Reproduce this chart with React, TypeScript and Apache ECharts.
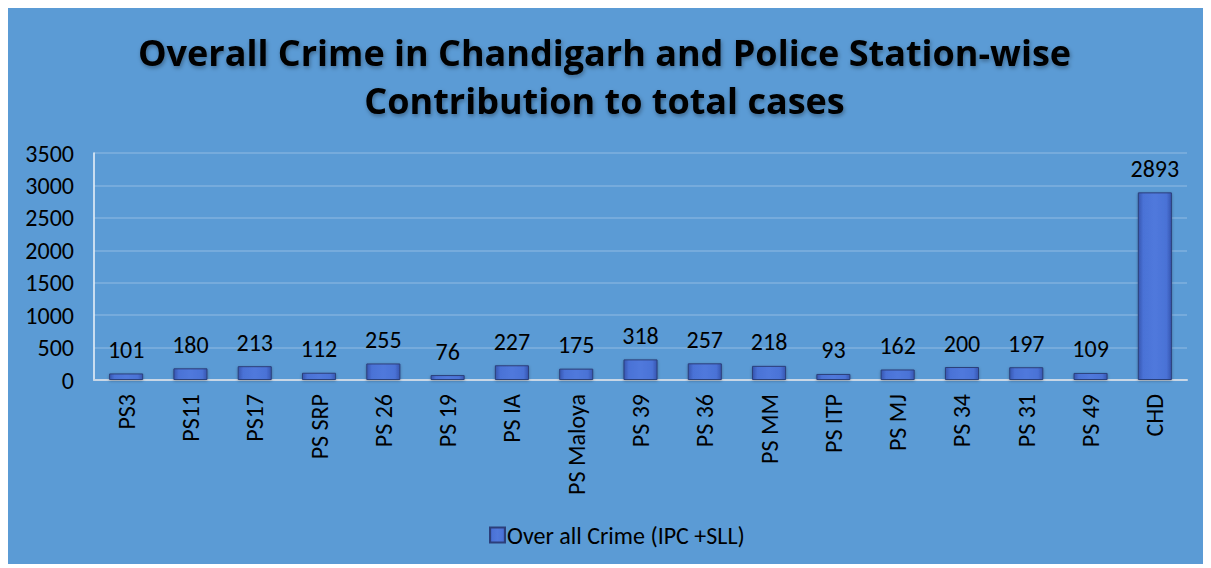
import React, { useEffect, useRef } from "react";
import * as echarts from "echarts";

const categories = ["PS3", "PS11", "PS17", "PS SRP", "PS 26", "PS 19", "PS IA", "PS Maloya", "PS 39", "PS 36", "PS MM", "PS ITP", "PS MJ", "PS 34", "PS 31", "PS 49", "CHD"];
const values = [101, 180, 213, 112, 255, 76, 227, 175, 318, 257, 218, 93, 162, 200, 197, 109, 2893];
const seriesName = "Over all Crime (IPC +SLL)";
const titleLines = ["Overall Crime in Chandigarh and Police Station-wise", "Contribution to total cases"];

export default function App() {
  const ref = useRef<HTMLDivElement>(null);
  useEffect(() => {
    const chart = echarts.init(ref.current!, null, { renderer: "svg" });
    const font = "Carlito, 'Open Sans', 'Liberation Sans', sans-serif";
    const barColor = new echarts.graphic.LinearGradient(0, 0, 1, 0, [
      { offset: 0, color: "#3656B0" },
      { offset: 0.15, color: "#4A72D6" },
      { offset: 0.5, color: "#5079DC" },
      { offset: 0.85, color: "#4A72D6" },
      { offset: 1, color: "#3656B0" },
    ]);
    chart.setOption({
      animation: false,
      backgroundColor: "#5B9BD5",
      title: {
        text: titleLines.join("\n"),
        left: "center",
        top: 15,
        textStyle: {
          fontFamily: "'Open Sans', sans-serif",
          fontWeight: "bold",
          fontSize: 36,
          lineHeight: 48,
          color: "#000",
          textShadowColor: "rgba(0,0,0,0.35)",
          textShadowBlur: 4,
          textShadowOffsetX: 1,
          textShadowOffsetY: 2,
        },
      },
      legend: {
        bottom: 12,
        left: 478,
        itemWidth: 15,
        itemHeight: 15,
        itemGap: 4,
        icon: "rect",
        textStyle: { fontFamily: font, fontSize: 24, color: "#000", padding: [0, 0, 0, -3] },
        data: [seriesName],
      },
      grid: { left: 88, right: 16, top: 145, bottom: 184, containLabel: false },
      xAxis: {
        type: "category",
        data: categories,
        axisLine: { lineStyle: { color: "#C9D7E6", width: 2 } },
        axisTick: { show: false },
        axisLabel: { rotate: 90, fontFamily: font, fontSize: 24, color: "#000", margin: 14, interval: 0 },
      },
      yAxis: {
        type: "value",
        min: 0,
        max: 3500,
        interval: 500,
        axisLine: { show: true, lineStyle: { color: "#EEF3F8", width: 1.5 } },
        axisTick: { show: false },
        splitLine: { lineStyle: { color: "#7FB1DE", width: 1.5 } },
        axisLabel: { fontFamily: font, fontSize: 24, color: "#000", margin: 20, formatter: (v: number) => String(v) },
      },
      series: [
        {
          name: seriesName,
          type: "bar",
          data: values,
          barWidth: "53%",
          itemStyle: {
            color: barColor,
            borderColor: "#2C3F7A",
            borderWidth: 1,
            shadowColor: "rgba(0,0,0,0.3)",
            shadowBlur: 3,
            shadowOffsetY: 1,
          },
          label: {
            show: true,
            position: "top",
            distance: 12,
            fontFamily: font,
            fontSize: 24,
            color: "#000",
          },
        },
      ],
    });
    return () => chart.dispose();
  }, []);
  return <div ref={ref} style={{ width: 1197, height: 556, marginLeft: -2 }} />;
}
